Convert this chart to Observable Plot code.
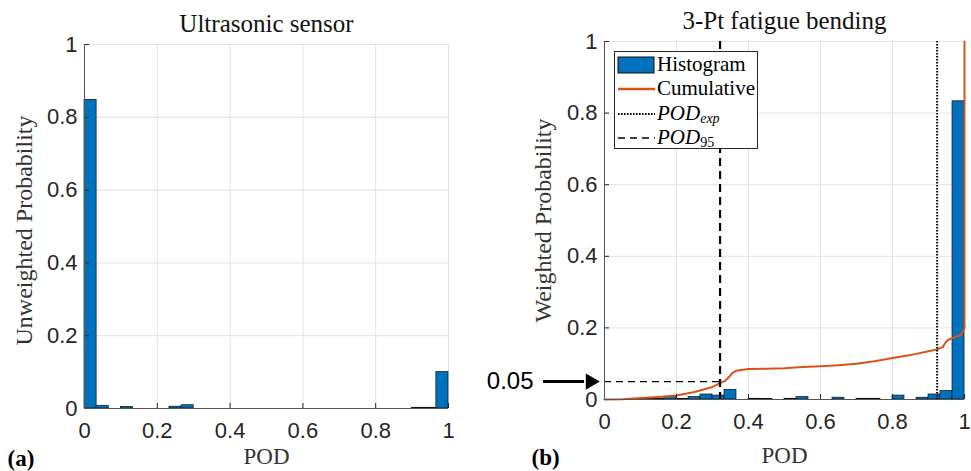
<!DOCTYPE html>
<html>
<head>
<meta charset="utf-8">
<script src="https://cdn.jsdelivr.net/npm/d3@7"></script>
<script src="https://cdn.jsdelivr.net/npm/@observablehq/plot@0.6"></script>
<style>
  body { margin: 0; background: #fff; }
  #wrap { position: relative; width: 971px; height: 471px; background: #fff; overflow: hidden; }
  #wrap > svg, #wrap > figure { position: absolute; top: 0; margin: 0; }
  #legend { position: absolute; left: 614px; top: 51px; width: 142px; height: 96px;
    border: 1px solid #262626; background: #fff; font-family: "Liberation Serif", serif; font-size: 21px; color: #000; }
  #legend .row { position: absolute; left: 0; height: 24px; width: 142px; }
  #legend .lab { position: absolute; left: 42px; top: 50%; transform: translateY(-52%); white-space: nowrap; line-height: 1; }
  #legend svg { position: absolute; left: 2px; top: 0; }
  #legend sub { font-size: 14px; vertical-align: -3px; line-height: 0; }
</style>
</head>
<body>
<div id="wrap"></div>
<script>
// ---------- data ----------
const xTicks = [0, 0.2, 0.4, 0.6, 0.8, 1];
const xTickLabels = ["0", "0.2", "0.4", "0.6", "0.8", "1"];
const yTicks = [0, 0.2, 0.4, 0.6, 0.8, 1];
const yTickLabels = ["0", "0.2", "0.4", "0.6", "0.8", "1"];

const nBins = 30; // histogram bins of equal width over POD in [0, 1]
const ultrasonicProb = [0.848, 0.0075, 0, 0.004, 0, 0, 0, 0.005, 0.009,
  0, 0, 0, 0, 0, 0, 0, 0, 0, 0, 0, 0, 0, 0, 0, 0, 0, 0,
  0.002, 0.002, 0.100];
const fatigueProb = [0, 0, 0.001, 0.002, 0.002, 0.007, 0.001, 0.007, 0.014, 0.011,
  0.027, 0, 0.002, 0.001, 0, 0.002, 0.007, 0, 0, 0.005,
  0, 0.002, 0.002, 0, 0.011, 0, 0.005, 0.014, 0.024, 0.833];

const cumPOD = [0, 0.05, 0.1, 0.15, 0.2, 0.25, 0.3, 0.32, 0.335, 0.345, 0.355, 0.365, 0.4, 0.45, 0.5,
  0.55, 0.6, 0.65, 0.7, 0.75, 0.8, 0.85, 0.9, 0.924, 0.94, 0.948, 0.955, 0.97, 0.99, 0.998, 1.0, 1.0];
const cumProb = [0, 0.001, 0.004, 0.007, 0.011, 0.021, 0.035, 0.045, 0.052, 0.062, 0.074, 0.08, 0.085, 0.086, 0.087,
  0.091, 0.093, 0.096, 0.1, 0.107, 0.116, 0.124, 0.135, 0.14, 0.147, 0.16, 0.167, 0.173, 0.18, 0.195, 0.2, 1.0];

const podExp = 0.924;
const pod95 = 0.321;
const level95 = 0.05;

const titles = ["Ultrasonic sensor", "3-Pt fatigue bending"];
const yLabels = ["Unweighted Probability", "Weighted Probability"];
const xLabel = "POD";
const panelLabels = ["(a)", "(b)"];
const annotation = "0.05";

// ---------- helpers ----------
const edges = d3.range(nBins + 1).map(i => i / nBins);
const toBars = vals => vals.map((v, i) => ({x1: edges[i], x2: edges[i + 1], y: v})).filter(d => d.y > 0);
const cumData = cumPOD.map((x, i) => ({x, y: cumProb[i]}));

const BLUE = "#0072BD", ORANGE = "#D95319", AX = "#262626", GRID = "#e3e3e3";
const serif = "'Liberation Serif', 'Times New Roman', serif";

function commonMarks(idx, opts) {
  const fmtX = d => xTickLabels[xTicks.indexOf(d)];
  const fmtY = d => yTickLabels[yTicks.indexOf(d)];
  return {
    grid: [
      Plot.ruleX(xTicks.slice(1), {stroke: GRID, strokeWidth: 1}),
      Plot.ruleY(yTicks.slice(1), {stroke: GRID, strokeWidth: 1})
    ],
    axes: [
      Plot.axisX({ticks: xTicks, tickFormat: fmtX, tickSize: -5, tickPadding: 19, stroke: AX, fill: AX, label: null, fontSize: 22}),
      Plot.axisY({ticks: yTicks, tickFormat: fmtY, tickSize: -5, tickPadding: 12, stroke: AX, fill: AX, label: null, fontSize: 22}),
      Plot.ruleX([0], {stroke: "#555", strokeWidth: 1}),
      Plot.ruleY([0], {stroke: "#555", strokeWidth: 1}),
      Plot.text([titles[idx]], {text: d => d, frameAnchor: "top", textAnchor: "middle", lineAnchor: "bottom", dy: -13, fontFamily: serif, fontSize: 25, fill: "#111"}),
      Plot.text([xLabel], {text: d => d, frameAnchor: "bottom", textAnchor: "middle", lineAnchor: "bottom", dy: opts.xlabDy, fontFamily: serif, fontSize: 23, fill: "#333"}),
      Plot.text([yLabels[idx]], {text: d => d, frameAnchor: "left", textAnchor: "middle", rotate: -90, lineAnchor: "bottom", dx: opts.ylabDx, dy: opts.ylabDy, fontFamily: serif, fontSize: 24, fill: "#333"}),
      Plot.text([panelLabels[idx]], {text: d => d, frameAnchor: "bottom-left", textAnchor: "start", lineAnchor: "bottom", dx: opts.plDx, dy: opts.plDy, fontFamily: serif, fontSize: 23, fontWeight: "bold", fill: "#000"})
    ]
  };
}

const wrap = document.getElementById("wrap");

// ---------- left panel ----------
{
  const c = commonMarks(0, {xlabDy: 55, ylabDx: -53, ylabDy: 4, plDx: -77, plDy: 57});
  const p = Plot.plot({
    width: 481, height: 471,
    marginLeft: 84, marginRight: 33, marginTop: 44, marginBottom: 63,
    x: {domain: [0, 1]}, y: {domain: [0, 1]},
    style: {fontFamily: "'Liberation Sans', Arial, sans-serif", fontSize: "22px", background: "transparent", overflow: "visible"},
    marks: [
      ...c.grid,
      Plot.rectY(toBars(ultrasonicProb), {x1: "x1", x2: "x2", y: "y", fill: BLUE, stroke: "#111", strokeWidth: 0.7}),
      ...c.axes
    ]
  });
  p.style.left = "0px";
  wrap.appendChild(p);
}

// ---------- right panel ----------
{
  const c = commonMarks(1, {xlabDy: 63, ylabDx: -54, ylabDy: 0, plDx: -73, plDy: 65});
  const p = Plot.plot({
    width: 490, height: 471,
    marginLeft: 123, marginRight: 7, marginTop: 41, marginBottom: 72,
    x: {domain: [0, 1]}, y: {domain: [0, 1]},
    style: {fontFamily: "'Liberation Sans', Arial, sans-serif", fontSize: "22px", background: "transparent", overflow: "visible"},
    marks: [
      ...c.grid,
      Plot.rectY(toBars(fatigueProb), {x1: "x1", x2: "x2", y: "y", fill: BLUE, stroke: "#111", strokeWidth: 0.7}),
      Plot.line(cumData, {x: "x", y: "y", stroke: ORANGE, strokeWidth: 2}),
      Plot.ruleX([podExp], {stroke: "#000", strokeWidth: 2, strokeDasharray: "1.6,1.4"}),
      Plot.ruleX([pod95], {stroke: "#000", strokeWidth: 2.2, strokeDasharray: "8,5"}),
      Plot.ruleY([level95], {x1: 0, x2: pod95, stroke: "#000", strokeWidth: 1.3, strokeDasharray: "7,5"}),
      ...c.axes,
      // annotation arrow "0.05 →"
      Plot.ruleY([level95], {y: d => d, insetLeft: -61, insetRight: 380, stroke: "#000", strokeWidth: 3}),
      Plot.dot([level95], {y: d => d, frameAnchor: "left", dx: -14, symbol: "triangle", rotate: 90, r: 6, fill: "#000", stroke: "none"}),
      Plot.text([annotation], {y: level95, text: d => d, frameAnchor: "left", textAnchor: "end", dx: -71, fontFamily: "'Liberation Sans', Arial, sans-serif", fontSize: 24, fill: "#000"})
    ]
  });
  p.style.left = "481px";
  wrap.appendChild(p);
}

// ---------- legend ----------
const legendItems = [
  {kind: "rect", html: "Histogram"},
  {kind: "line", color: ORANGE, dash: null, width: 2.5, html: "Cumulative"},
  {kind: "line", color: "#000", dash: "1.6,1.4", width: 2, html: "<i>POD<sub>exp</sub></i>"},
  {kind: "line", color: "#000", dash: "7,5", width: 1.5, html: "<i>POD</i><sub>95</sub>"}
];
const leg = document.createElement("div");
leg.id = "legend";
legendItems.forEach((it, i) => {
  const row = document.createElement("div");
  row.className = "row";
  row.style.top = (0.5 + i * 24.5) + "px";
  const sw = it.kind === "rect"
    ? `<svg width="40" height="24"><rect x="1" y="4" width="36" height="16" fill="${BLUE}" stroke="#111" stroke-width="1"/></svg>`
    : `<svg width="40" height="24"><line x1="1" x2="38" y1="12" y2="12" stroke="${it.color}" stroke-width="${it.width}" ${it.dash ? `stroke-dasharray="${it.dash}"` : ""}/></svg>`;
  row.innerHTML = sw + `<span class="lab">${it.html}</span>`;
  leg.appendChild(row);
});
wrap.appendChild(leg);
</script>
</body>
</html>
